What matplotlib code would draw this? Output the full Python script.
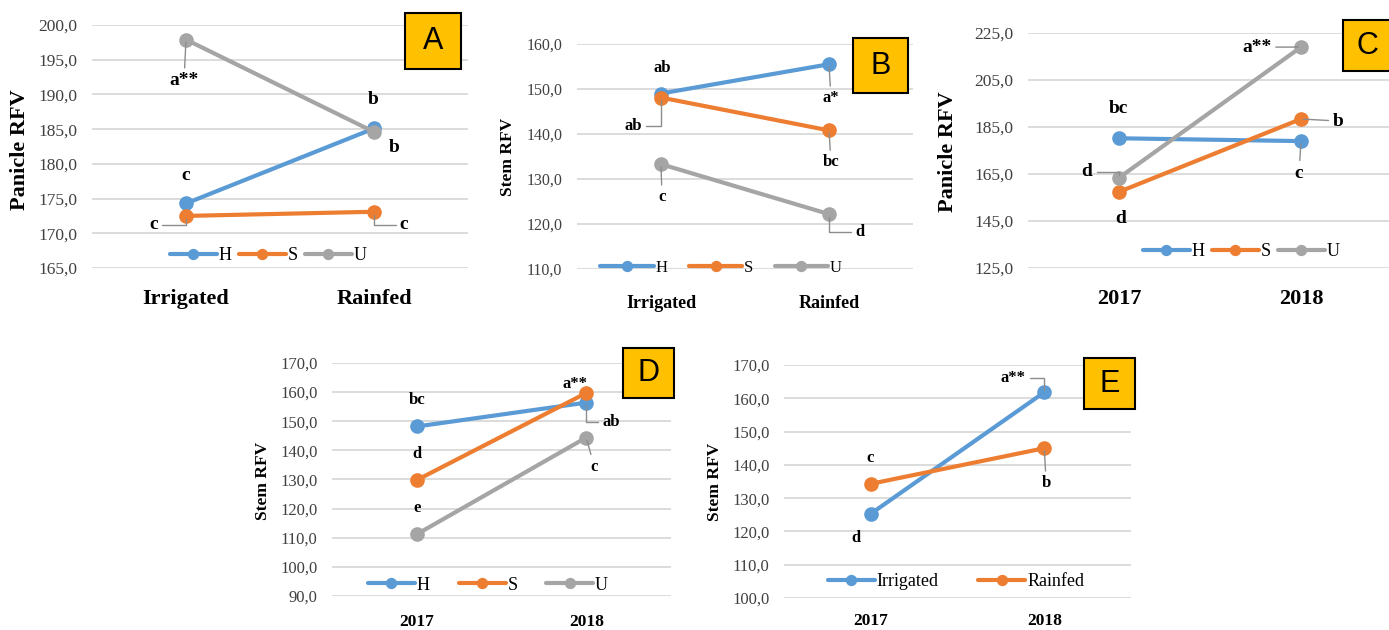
import matplotlib
matplotlib.use("Agg")
import matplotlib.pyplot as plt
from matplotlib.patches import Rectangle

W, H = 1389, 630
BLUE, ORANGE, GRAY = "#5B9BD5", "#ED7D31", "#A5A5A5"
SERIF = "Liberation Serif"

# panel A - panicle RFV by water regime
a_cats = ["Irrigated", "Rainfed"]
a_H = [174.3, 185.1]
a_S = [172.5, 173.1]
a_U = [197.9, 184.6]

# panel B - stem RFV by water regime
b_cats = ["Irrigated", "Rainfed"]
b_H = [149.0, 155.5]
b_S = [148.1, 140.8]
b_U = [133.3, 122.2]

# panel C - panicle RFV by year
c_cats = ["2017", "2018"]
c_H = [180.2, 179.0]
c_S = [157.4, 188.4]
c_U = [163.4, 219.0]

# panel D - stem RFV by year
d_cats = ["2017", "2018"]
d_H = [148.2, 156.4]
d_S = [129.8, 159.7]
d_U = [111.2, 144.4]

# panel E - stem RFV, water regime x year
e_cats = ["2017", "2018"]
e_irr = [125.3, 161.8]
e_rain = [134.3, 145.0]


def fx(px):
    return px / W


def fy(py):
    return 1 - py / H


def make_axes(left, top, right, bottom, ylim, step, cats, xfont, xpad, tickfont):
    ax = fig.add_axes([fx(left), fy(bottom), fx(right - left), (bottom - top) / H])
    ax.set_ylim(*ylim)
    ax.set_xlim(-0.5, -0.5 + (right - left) / ((right - left) / 2.0))
    yt = list(range(int(ylim[0]), int(ylim[1]) + 1, step))
    ax.set_yticks(yt)
    ax.set_yticklabels([f"{v},0" for v in yt], family=SERIF, fontsize=tickfont, color="#404040")
    ax.set_xticks([0, 1])
    ax.set_xticklabels(cats, family=SERIF, fontsize=xfont, fontweight="bold")
    ax.tick_params(axis="y", length=0, pad=10.5)
    ax.tick_params(axis="x", length=0, pad=xpad)
    ax.grid(axis="y", color="#D9D9D9", lw=1.3, zorder=0)
    for s in ax.spines.values():
        s.set_visible(False)
    ax.set_facecolor("none")
    return ax


def draw(ax, series, labels, colors):
    for vals, lab, col in zip(series, labels, colors):
        ax.plot([0, 1], vals, color=col, lw=3, marker="o", ms=9.5, label=lab,
                solid_capstyle="round", zorder=3, clip_on=False)


def note(ax, txt, x, y, dx, dy, fs, lead=None):
    kw = {}
    if lead is not None:
        kw["arrowprops"] = dict(arrowstyle="-", color="#8C8C8C", lw=1,
                                shrinkA=1, shrinkB=2, connectionstyle=lead)
    ax.annotate(txt, (x, y), xytext=(dx, dy), textcoords="offset pixels",
                ha="center", va="center", family=SERIF, fontweight="bold",
                fontsize=fs, zorder=4, **kw)


def legend(ax, cx, cy, fs, colsp, hl=2.6, n=3):
    ax.legend(loc="center", bbox_to_anchor=(fx(cx), fy(cy)), bbox_transform=fig.transFigure,
              ncol=n, frameon=False, prop={"family": SERIF, "size": fs},
              handlelength=hl, handletextpad=0.1, columnspacing=colsp, markerscale=0.75,
              borderpad=0, borderaxespad=0)


def ylabel(text, x, y, fs):
    fig.text(fx(x), fy(y), text, rotation=90, ha="center", va="center",
             family=SERIF, fontweight="bold", fontsize=fs)


def tag(letter, x0, y0, x1, y1):
    fig.patches.append(Rectangle((fx(x0), fy(y1)), fx(x1 - x0), (y1 - y0) / H,
                                 transform=fig.transFigure, facecolor="#FFC000",
                                 edgecolor="black", lw=1.5, zorder=5))
    fig.text(fx((x0 + x1) / 2), fy((y0 + y1) / 2), letter, ha="center", va="center",
             family="Liberation Sans", fontsize=22, zorder=6)


fig = plt.figure(figsize=(W / 100, H / 100), dpi=100)

# A
ax = make_axes(92, 25, 468, 268, (165, 200), 5, a_cats, 16, 15, 12.5)
draw(ax, [a_H, a_S, a_U], ["H", "S", "U"], [BLUE, ORANGE, GRAY])
note(ax, "a**", 0, a_U[0], -2, -41, 14, "arc3")
note(ax, "b", 1, a_H[1], -1, 29, 14)
note(ax, "b", 1, a_U[1], 20, -16, 14)
note(ax, "c", 0, a_H[0], 0, 28, 14)
note(ax, "c", 0, a_S[0], -32, -9, 14, "angle,angleA=0,angleB=90,rad=0")
note(ax, "c", 1, a_S[1], 30, -13, 14, "angle,angleA=0,angleB=90,rad=0")
legend(ax, 268, 256, 13, 0.4)
ylabel("Panicle RFV", 20, 150, 16)
tag("A", 405, 13, 461, 69)

# B
ax = make_axes(577, 44, 913, 269, (110, 160), 10, b_cats, 13, 19, 11.5)
draw(ax, [b_H, b_S, b_U], ["H", "S", "U"], [BLUE, ORANGE, GRAY])
note(ax, "ab", 0, b_H[0], 1, 26, 12)
note(ax, "a*", 1, b_H[1], 2, -34, 12, "arc3")
note(ax, "ab", 0, b_S[0], -28, -28, 12, "angle,angleA=0,angleB=90,rad=0")
note(ax, "bc", 1, b_S[1], 2, -32, 12, "arc3")
note(ax, "c", 0, b_U[0], 1, -33, 12, "arc3")
note(ax, "d", 1, b_U[1], 31, -18, 12, "angle,angleA=0,angleB=90,rad=0")
legend(ax, 721, 268, 12, 1.3, hl=3.2)
ylabel("Stem RFV", 508, 157, 12.5)
tag("B", 853, 38, 908, 93)

# C
ax = make_axes(1028, 33, 1392, 268, (125, 225), 20, c_cats, 16, 15, 12.5)
draw(ax, [c_H, c_S, c_U], ["H", "S", "U"], [BLUE, ORANGE, GRAY])
note(ax, "a**", 1, c_U[1], -44, 0, 14, "arc3")
note(ax, "bc", 0, c_H[0], -1, 30, 14)
note(ax, "b", 1, c_S[1], 37, -2, 14, "arc3")
note(ax, "c", 1, c_H[1], -2, -32, 14, "arc3")
note(ax, "d", 0, c_U[0], -32, 6, 14, "angle,angleA=0,angleB=90,rad=0")
note(ax, "d", 0, c_S[0], 2, -27, 14)
legend(ax, 1241, 252, 13, 0.4)
ylabel("Panicle RFV", 948, 152, 16)
tag("C", 1343, 20, 1392, 71)

# D
ax = make_axes(332, 363, 671, 596, (90, 170), 10, d_cats, 12.5, 13, 12)
draw(ax, [d_H, d_S, d_U], ["H", "S", "U"], [BLUE, ORANGE, GRAY])
note(ax, "bc", 0, d_H[0], 0, 26, 12)
note(ax, "d", 0, d_S[0], 0, 26, 12)
note(ax, "e", 0, d_U[0], 0, 26, 12)
note(ax, "a**", 1, d_S[1], -11, 9, 12)
note(ax, "ab", 1, d_H[1], 25, -19, 12, "angle,angleA=0,angleB=90,rad=0")
note(ax, "c", 1, d_U[1], 8, -29, 12, "arc3")
legend(ax, 488, 585, 13, 1.6)
ylabel("Stem RFV", 263, 481, 12.5)
tag("D", 623, 348, 674, 398)

# E
ax = make_axes(784, 365, 1131, 598, (100, 170), 10, e_cats, 12.5, 11, 12)
draw(ax, [e_irr, e_rain], ["Irrigated", "Rainfed"], [BLUE, ORANGE])
note(ax, "a**", 1, e_irr[1], -31, 14, 12, "angle,angleA=0,angleB=90,rad=0")
note(ax, "c", 0, e_rain[0], -1, 26, 12)
note(ax, "d", 0, e_irr[0], -15, -24, 12)
note(ax, "b", 1, e_rain[1], 2, -35, 12, "arc3")
legend(ax, 956, 582, 13, 2.2, n=2)
ylabel("Stem RFV", 715, 482, 12.5)
tag("E", 1084, 358, 1135, 409)

fig.savefig("out.png", dpi=100)
